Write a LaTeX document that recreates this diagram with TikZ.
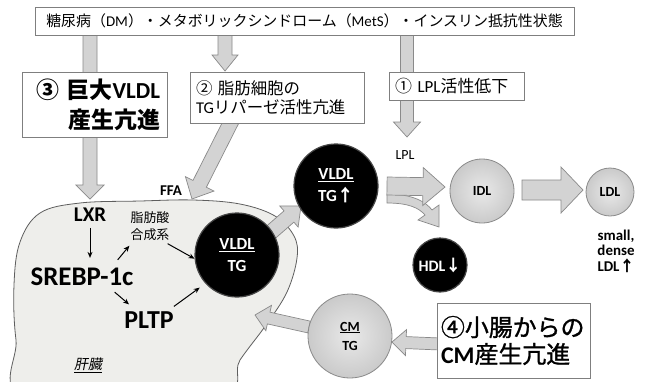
\documentclass[tikz,border=0pt]{standalone}
\usepackage{fontspec}
\setmainfont{Carlito}
\newfontfamily\jp{Noto Sans CJK JP}
\newfontfamily\jpit[FakeSlant=0.2]{Noto Sans CJK JP}
\newfontfamily\jpm[FakeBold=1.2]{Noto Sans CJK JP}
\usetikzlibrary{calc,arrows.meta}
\definecolor{boxline}{HTML}{7F7F7F}
\definecolor{arrfill}{HTML}{D3D3D3}
\definecolor{arrline}{HTML}{8A8A8A}
\definecolor{liverfill}{HTML}{EEEEEB}
\definecolor{liverline}{HTML}{5E5E5E}
\definecolor{ballin}{HTML}{E9E9E9}
\definecolor{ballout}{HTML}{CACACA}
\newcommand{\blockarrow}[5]{% start, end, halfshaft, halfhead, headlen
  \path coordinate (bah) at ($(#2)!#5!(#1)$);
  \draw[bigarrow] ($(#1)!#3!90:(#2)$) -- ($(bah)!#3!90:(#2)$) -- ($(bah)!#4!90:(#2)$) -- (#2)
    -- ($(bah)!#4!-90:(#2)$) -- ($(bah)!#3!-90:(#2)$) -- ($(#1)!#3!-90:(#2)$) -- cycle;}
\begin{document}
\begin{tikzpicture}[x=1bp,y=-1bp,
  bigarrow/.style={fill=arrfill, draw=arrline, line width=0.7bp, line join=miter},
  thinarr/.style={-{Stealth[length=6bp,width=5bp]}, line width=1bp, black},
  jbox/.style={draw=boxline, fill=white, line width=0.8bp, inner ysep=0pt},
  lbl/.style={inner sep=1bp},
  blackball/.style={circle, fill=black, draw=gray!55!black, line width=1.2bp, text=white, align=center, inner sep=0pt, font=\bfseries\fontsize{17}{22}\selectfont},
  lightball/.style={circle, draw=arrline, line width=0.8bp, inner color=ballin, outer color=ballout, align=center, inner sep=0pt, font=\bfseries\fontsize{14}{19}\selectfont}]
\useasboundingbox (0,0) rectangle (648,381);
\fill[white] (0,0) rectangle (648,381);
% liver
\begin{scope}
\clip (0,0) rectangle (648,381);
\draw[fill=liverfill, draw=liverline, line width=0.8bp] plot[smooth cycle, tension=0.6] coordinates {(28,400) (16,340) (14,285) (20,242) (40,213) (80,203) (140,201) (193,200) (240,204) (275,216) (294,236) (297,258) (287,292) (266,325) (240,360) (215,400)};
\end{scope}
% block arrow end points
\coordinate (a3s) at (90,30);   \coordinate (a3e) at (90,199);
\coordinate (a2s) at (225,30);  \coordinate (a2e) at (225,71);
\coordinate (a1s) at (407,30);  \coordinate (a1e) at (407,137);
\coordinate (ffs) at (233,118); \coordinate (ffe) at (192,199);
\coordinate (vvs) at (262,240); \coordinate (vve) at (301,206);
\coordinate (vis) at (387,186); \coordinate (vie) at (445,187);
\coordinate (ils) at (522,190); \coordinate (ile) at (583,190);
\coordinate (cms) at (309,327); \coordinate (cme) at (255,315);
\coordinate (b4s) at (440,344); \coordinate (b4e) at (392,342);
\blockarrow{a3s}{a3e}{7bp}{14bp}{14bp}
\blockarrow{a2s}{a2e}{7bp}{13bp}{16bp}
\blockarrow{a1s}{a1e}{6.5bp}{13.5bp}{15bp}
\blockarrow{ffs}{ffe}{7.5bp}{16bp}{17bp}
\blockarrow{vvs}{vve}{7.5bp}{14bp}{16bp}
% curved arrow towards HDL
\draw[bigarrow] (387,194) .. controls (413,194) and (426,202) .. (432,210) -- (439,205) -- (439,227) -- (418,220) -- (425,215) .. controls (419,208) and (409,203) .. (387,203) -- cycle;
\blockarrow{vis}{vie}{9bp}{19bp}{22bp}
\blockarrow{ils}{ile}{10bp}{23bp}{22bp}
\blockarrow{cms}{cme}{6bp}{13bp}{14bp}
\blockarrow{b4s}{b4e}{6bp}{13bp}{14bp}
% boxes
\node[jbox, minimum width=539bp, minimum height=28bp, font=\fontsize{15}{15}\selectfont] (top) at (304.5,21)
  {{\jp 糖尿病（}DM{\jp ）・メタボリックシンドローム（}MetS{\jp ）・インスリン抵抗性状態}};
\node[jbox, minimum height=65bp, inner xsep=7bp, text width=131bp, align=right, font=\bfseries\fontsize{23}{30}\selectfont] (b3) at (94.5,104.5)
  {{\jp ③ 巨大}VLDL\\{\jp 産生亢進}};
\node[jbox, minimum height=51bp, inner xsep=6bp, text width=162bp, align=left, font=\fontsize{16.5}{19}\selectfont] (b2) at (277,97.5)
  {{\jp ② 脂肪細胞の}\\TG{\jp リパーゼ活性亢進}};
\node[jbox, minimum height=28bp, inner xsep=6bp, text width=123bp, align=left, font=\fontsize{17}{17}\selectfont] (b1) at (456.5,86)
  {{\jp ①} LPL{\jp 活性低下}};
\node[jbox, minimum height=75bp, inner xsep=4bp, text width=145bp, align=left, font=\fontsize{24}{27}\selectfont] (b4) at (513.5,340.5)
  {{\jpm ④小腸からの}\\\textbf{CM}{\jpm 産生亢進}};
% circles
\node[blackball, minimum size=84bp] (vldlin) at (237,255) {\underline{VLDL}\\TG};
\node[blackball, minimum size=84bp] (vldl) at (336,186) {\underline{VLDL}\\TG{\jp ↑}};
\node[blackball, minimum size=54bp, font=\bfseries\fontsize{16}{16}\selectfont] (hdl) at (440,265) {HDL{\jp ↓}};
\node[lightball, minimum size=64bp] (idl) at (482,191) {IDL};
\node[lightball, minimum size=48bp] (ldl) at (610,192) {LDL};
\node[lightball, minimum size=84bp] (cm) at (350,336) {\underline{CM}\\TG};
% labels
\node[lbl, font=\bfseries\fontsize{21}{21}\selectfont] (lxr) at (90,215) {LXR};
\node[lbl, font=\bfseries\fontsize{27}{27}\selectfont] (srebp) at (82,277) {SREBP-1c};
\node[lbl, font=\bfseries\fontsize{26}{26}\selectfont] (pltp) at (149,320) {PLTP};
\node[lbl, align=center, font=\jp\fontsize{13}{17}\selectfont] (fa) at (150,226) {脂肪酸\\合成系};
\node[lbl, font=\bfseries\fontsize{15}{15}\selectfont] (ffa) at (171,191) {FFA};
\node[lbl, font=\fontsize{14}{14}\selectfont] (lpl) at (405,155) {LPL};
\node[lbl, font=\jpit\fontsize{14}{14}\selectfont] (liv) at (88,365) {\underline{肝臓}};
\node[lbl, align=center, font=\bfseries\fontsize{15}{15.5}\selectfont] (sd) at (616,251) {small,\\dense\\LDL{\jp ↑}};
% thin arrows in liver
\draw[thinarr, shorten <=5bp, shorten >=9bp] (lxr.south) -- (lxr.south |- srebp.north);
\draw[thinarr] ($(srebp.north east)+(-17,-7)$) -- ($(fa.south west)+(0,4)$);
\draw[thinarr] ($(srebp.south east)+(-20,5)$) -- ($(pltp.north west)+(6,-6)$);
\draw[thinarr] ($(fa.south east)+(-3,2)$) -- (vldlin.185);
\draw[thinarr, shorten >=7bp] ($(pltp.north east)+(-1,-4)$) -- (vldlin.222);
\end{tikzpicture}
\end{document}
